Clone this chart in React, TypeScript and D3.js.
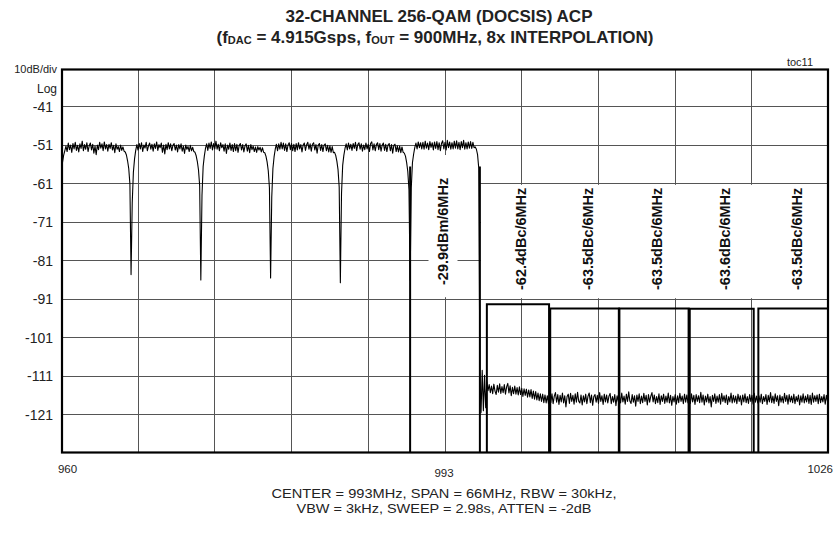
import React from 'react';
import * as d3 from 'd3';

// Sweep settings
const FREQ_START = 960;
const FREQ_STOP = 1026;
const STEP_MHZ = 0.1;
const DB_TOP = -31;
const DB_BOTTOM = -131;

const yTickLabels = [-41, -51, -61, -71, -81, -91, -101, -111, -121];
const xTickLabels = ['960', '993', '1026'];

// Measured spectrum in dBm, 0.1 MHz per sample, 6 MHz per array
const trace960 = [
  -59.0, -55.5, -53.6, -52.4, -51.2, -52.6, -50.4, -52.1, -50.9, -52.8,
  -50.5, -51.9, -50.2, -52.3, -51.0, -52.7, -50.6, -51.8, -49.9, -52.4,
  -50.8, -52.0, -50.3, -52.6, -51.1, -50.4, -52.2, -50.7, -53.0, -51.2,
  -53.4, -50.9, -52.1, -50.2, -51.7, -50.6, -52.4, -50.1, -51.9, -50.8,
  -52.5, -50.7, -51.8, -50.3, -52.2, -51.0, -52.9, -50.6, -52.0, -51.3,
  -52.6, -50.9, -52.3, -51.4, -52.5, -52.7, -53.5, -55.0, -57.0, -61.0,
];
const trace966 = [
  -84.6, -66.0, -58.0, -54.5, -52.3, -50.8, -52.2, -50.5, -51.9, -50.3,
  -52.6, -50.9, -51.7, -50.2, -52.4, -51.1, -50.4, -52.0, -50.7, -52.5,
  -50.6, -51.8, -50.1, -52.3, -50.8, -51.6, -50.4, -52.8, -50.9, -53.2,
  -50.7, -52.1, -50.3, -51.9, -50.6, -52.4, -51.0, -50.5, -52.2, -50.9,
  -52.7, -50.8, -51.9, -50.6, -52.5, -51.2, -53.1, -50.9, -52.0, -51.3,
  -52.6, -51.0, -52.4, -51.5, -52.6, -52.8, -53.7, -55.2, -57.4, -61.5,
];
const trace972 = [
  -86.0, -64.0, -56.5, -53.8, -51.8, -50.6, -52.3, -50.4, -51.8, -50.1,
  -52.2, -50.5, -51.9, -49.9, -52.0, -50.7, -52.4, -50.3, -51.6, -50.8,
  -52.5, -50.6, -53.1, -50.9, -52.0, -50.4, -52.3, -50.8, -52.6, -50.5,
  -52.4, -50.7, -52.8, -51.0, -50.5, -52.2, -50.8, -52.7, -51.1, -50.6,
  -52.5, -51.0, -52.9, -50.8, -52.1, -51.2, -52.6, -51.4, -52.8, -51.3,
  -52.2, -51.5, -52.7, -51.6, -52.8, -52.9, -53.8, -55.3, -57.6, -62.0,
];
const trace978 = [
  -85.5, -64.5, -57.0, -54.0, -52.0, -50.7, -52.4, -50.6, -52.0, -50.2,
  -51.9, -50.4, -52.3, -50.6, -52.6, -50.9, -50.3, -52.1, -50.5, -52.4,
  -50.7, -52.6, -50.5, -52.2, -50.3, -51.9, -50.8, -52.7, -50.9, -50.4,
  -52.3, -50.8, -50.2, -52.0, -50.6, -52.5, -50.7, -50.3, -52.2, -50.8,
  -53.0, -50.9, -50.5, -52.3, -50.8, -52.6, -50.9, -50.6, -52.4, -51.0,
  -52.7, -51.1, -52.8, -51.3, -52.9, -52.8, -53.6, -55.1, -57.3, -61.8,
];
const trace984 = [
  -86.7, -63.5, -56.2, -53.6, -51.8, -50.6, -52.2, -50.4, -51.9, -50.7,
  -52.3, -50.5, -51.8, -50.2, -52.4, -50.8, -50.3, -52.0, -50.6, -52.5,
  -50.9, -52.1, -50.4, -51.9, -50.7, -52.6, -50.5, -50.1, -52.2, -50.6,
  -52.4, -50.8, -50.3, -52.1, -50.5, -52.5, -50.9, -50.4, -52.3, -50.7,
  -52.6, -50.9, -50.5, -52.4, -50.8, -53.0, -51.0, -50.7, -52.6, -51.1,
  -52.7, -51.2, -52.9, -51.4, -52.8, -53.0, -53.8, -55.4, -57.8, -62.5,
];
const trace990 = [
  -86.0, -62.0, -55.5, -53.3, -51.6, -50.4, -51.9, -50.1, -51.6, -50.3,
  -51.9, -50.2, -52.0, -49.9, -51.7, -50.4, -52.1, -50.0, -51.5, -50.3,
  -52.2, -50.1, -51.8, -50.0, -52.1, -50.3, -52.4, -50.5, -49.8, -51.9,
  -50.2, -52.2, -49.7, -51.6, -50.1, -52.0, -50.3, -51.9, -49.9, -51.7,
  -49.8, -51.9, -50.2, -52.1, -50.0, -51.6, -49.7, -52.0, -50.3, -51.9,
  -50.1, -51.7, -50.0, -51.8, -50.2, -51.6, -51.4, -52.0, -53.4, -56.8,
];
const trace996 = [
  -110.5, -120.5, -109.5, -120.0, -110.8, -119.2, -112.5, -114.8, -113.2, -115.3,
  -113.6, -115.6, -113.1, -114.9, -115.8, -113.4, -115.2, -113.0, -115.5, -113.7,
  -115.3, -113.2, -115.7, -113.8, -112.9, -115.4, -113.5, -116.1, -113.9, -115.6,
  -113.6, -115.7, -114.0, -115.9, -113.8, -115.8, -114.2, -116.3, -114.3, -116.0,
  -114.4, -116.5, -114.6, -116.4, -114.5, -116.8, -114.9, -117.0, -115.0, -117.2,
  -115.4, -117.4, -115.6, -117.6, -115.7, -117.9, -115.9, -118.0, -116.1, -118.2,
];
const trace1002 = [
  -115.9, -117.9, -115.6, -118.2, -116.2, -115.3, -117.8, -115.8, -118.4, -116.0,
  -117.7, -115.4, -118.0, -116.1, -119.0, -116.3, -115.7, -118.1, -115.5, -117.6,
  -116.0, -118.3, -115.6, -117.8, -115.2, -117.5, -118.0, -115.9, -118.5, -116.1,
  -117.7, -115.7, -118.2, -116.2, -115.4, -117.9, -115.9, -118.6, -116.3, -115.8,
  -117.8, -116.0, -118.1, -115.3, -117.6, -116.1, -118.4, -115.7, -117.7, -115.9,
  -118.0, -116.2, -115.5, -118.2, -116.3, -117.8, -115.8, -118.7, -116.1, -117.6,
];
const trace1008 = [
  -116.0, -118.0, -115.4, -117.7, -116.2, -118.3, -115.7, -117.6, -115.1, -117.5,
  -118.1, -115.8, -117.8, -116.1, -118.8, -115.9, -117.6, -115.6, -118.2, -116.2,
  -117.9, -115.5, -117.6, -116.0, -118.5, -115.8, -117.8, -116.2, -115.3, -117.7,
  -115.9, -118.2, -116.3, -117.9, -115.6, -118.4, -116.1, -117.6, -115.7, -118.1,
  -116.2, -117.8, -115.4, -118.0, -116.0, -118.6, -116.3, -117.7, -115.8, -118.3,
  -116.1, -117.9, -115.5, -117.6, -116.2, -118.2, -115.7, -117.8, -115.9, -118.0,
];
const trace1014 = [
  -116.3, -118.1, -115.6, -117.7, -116.0, -118.4, -115.8, -117.6, -116.1, -117.9,
  -115.2, -117.8, -115.9, -118.5, -116.2, -117.7, -115.7, -118.0, -116.3, -119.0,
  -116.0, -117.6, -115.6, -118.1, -116.2, -117.8, -115.8, -118.3, -115.5, -117.6,
  -116.1, -117.9, -115.9, -118.4, -116.3, -117.7, -115.4, -118.0, -116.0, -117.8,
  -116.2, -118.2, -115.7, -117.6, -116.1, -118.5, -115.9, -117.7, -115.6, -117.9,
  -116.3, -118.1, -115.8, -117.6, -116.0, -118.3, -115.5, -117.8, -116.2, -118.0,
];
const trace1020 = [
  -116.1, -117.8, -115.7, -118.2, -116.3, -117.6, -115.8, -118.4, -116.0, -117.7,
  -115.3, -117.9, -116.2, -118.1, -115.6, -117.6, -116.1, -118.7, -115.9, -117.8,
  -116.3, -118.0, -115.5, -117.6, -116.0, -118.3, -115.8, -117.7, -116.2, -117.9,
  -115.7, -118.2, -116.3, -117.6, -115.9, -118.5, -116.1, -117.8, -115.6, -118.0,
  -116.2, -117.7, -115.8, -118.1, -116.0, -118.4, -115.4, -117.8, -116.1, -117.6,
  -115.9, -118.2, -115.7, -117.9, -116.3, -117.7, -115.8, -118.3, -116.0, -117.6,
  -116.2,
];

// Channel power measurement
const mainStart = 990;
const mainStop = 996;
const mainPower = -29.9;
const adjStarts = [996.6, 1002.05, 1008.0, 1014.05, 1019.95];
const adjStops = [1001.95, 1007.95, 1013.95, 1019.55, 1026.0];
const adjDbc = [-62.4, -63.5, -63.5, -63.6, -63.5];

const W = 834;
const H = 538;
const FONT = "'Liberation Sans', Arial, Helvetica, sans-serif";

export default function App() {
  const x = d3.scaleLinear().domain([FREQ_START, FREQ_STOP]).range([61.3, 828.7]);
  const y = d3.scaleLinear().domain([DB_BOTTOM, DB_TOP]).range([453, 68.5]);

  const frame = { x0: 62, x1: 828, y0: 69.5, y1: 452.5 };

  const values = [
    ...trace960, ...trace966, ...trace972, ...trace978, ...trace984, ...trace990,
    ...trace996, ...trace1002, ...trace1008, ...trace1014, ...trace1020,
  ];
  const points = values.map((v, i) => ({ f: FREQ_START + i * STEP_MHZ, v }));
  const line = d3
    .line<{ f: number; v: number }>()
    .x((d) => x(d.f))
    .y((d) => y(d.v));

  const vGrid = d3.range(1, 10).map((i) => FREQ_START + (i * (FREQ_STOP - FREQ_START)) / 10);

  const xMainL = x(mainStart);
  const xMainR = x(mainStop);
  const mainLabelCx = (xMainL + xMainR) / 2 - 2;

  const adjBoxes = adjStarts.map((s, i) => ({
    s,
    e: adjStops[i],
    top: mainPower + adjDbc[i],
    label: `${adjDbc[i].toFixed(1)}dBc/6MHz`,
  }));

  const gridColor = '#555';

  return (
    <svg
      width={W}
      height={H}
      viewBox={`0 0 ${W} ${H}`}
      style={{ position: 'absolute', left: 0, top: 0, background: '#fff' }}
      fontFamily={FONT}
    >
      <defs>
        <clipPath id="plotClip">
          <rect x={frame.x0} y={frame.y0} width={frame.x1 - frame.x0} height={frame.y1 - frame.y0} />
        </clipPath>
      </defs>
      <rect x={0} y={0} width={W} height={H} fill="#fff" />

      {/* Title */}
      <text x={439} y={22} textAnchor="middle" fontSize={17} fontWeight="bold" fill="#222">
        32-CHANNEL 256-QAM (DOCSIS) ACP
      </text>
      <text x={435} y={43} textAnchor="middle" fontSize={17} fontWeight="bold" fill="#222">
        (f
        <tspan fontSize={11} dy={1}>DAC</tspan>
        <tspan dy={-1}> = 4.915Gsps, f</tspan>
        <tspan fontSize={11} dy={1}>OUT</tspan>
        <tspan dy={-1}> = 900MHz, 8x INTERPOLATION)</tspan>
      </text>
      <text x={813} y={66} textAnchor="end" fontSize={11} fill="#222">toc11</text>

      {/* Y axis annotations */}
      <text x={57} y={73} textAnchor="end" fontSize={11} fill="#222">10dB/div</text>
      <text x={57} y={93} textAnchor="end" fontSize={12} fill="#222">Log</text>
      {yTickLabels.map((v) => (
        <text key={v} x={53} y={y(v)} dy="0.36em" textAnchor="end" fontSize={14} fill="#222">
          {v}
        </text>
      ))}

      {/* X axis labels */}
      <text x={67.5} y={473} textAnchor="middle" fontSize={11.5} fill="#222">{xTickLabels[0]}</text>
      <text x={444} y={477} textAnchor="middle" fontSize={11.5} fill="#222">{xTickLabels[1]}</text>
      <text x={833} y={473} textAnchor="end" fontSize={11.5} fill="#222">{xTickLabels[2]}</text>

      {/* Grid */}
      <g stroke={gridColor} strokeWidth={1} shapeRendering="crispEdges">
        {yTickLabels.map((v) => (
          <line key={`h${v}`} x1={frame.x0} x2={frame.x1} y1={y(v)} y2={y(v)} />
        ))}
        {vGrid.map((f) => (
          <line key={`v${f}`} x1={x(f)} x2={x(f)} y1={frame.y0} y2={frame.y1} />
        ))}
      </g>

      {/* Blanked areas behind the channel annotations */}
      <rect x={xMainL} y={y(-53.5)} width={xMainR - xMainL} height={y(-76) - y(-53.5)} fill="#fff" />
      <rect x={mainLabelCx - 14.5} y={y(-57)} width={29} height={y(-91) - 2 - y(-57)} fill="#fff" />
      <rect
        x={xMainR + 1}
        y={y(-61) + 1}
        width={frame.x1 - xMainR - 1}
        height={y(-91) - y(-61) - 2}
        fill="#fff"
      />

      {/* Channel power labels */}
      <text
        transform={`translate(${mainLabelCx + 5.2},285) rotate(-90)`}
        fontSize={14.5}
        fontWeight="bold"
        fill="#111"
      >
        {`${mainPower.toFixed(1)}dBm/6MHz`}
      </text>
      {adjBoxes.map((b) => (
        <text
          key={`l${b.s}`}
          transform={`translate(${(x(b.s) + x(b.e)) / 2 + 3 + 5.2},290) rotate(-90)`}
          fontSize={14.5}
          fontWeight="bold"
          fill="#111"
        >
          {b.label}
        </text>
      ))}

      <g clipPath="url(#plotClip)">
        {/* Integration bandwidth markers */}
        <g stroke="#000" strokeWidth={2} fill="none">
          <line x1={xMainL} x2={xMainL} y1={y(-56.5)} y2={y(DB_BOTTOM)} />
          <line x1={xMainR} x2={xMainR} y1={y(-56.5)} y2={y(DB_BOTTOM)} />
          {adjBoxes.map((b) => (
            <path
              key={`b${b.s}`}
              d={`M${x(b.s)},${y(DB_BOTTOM)}V${y(b.top)}H${x(b.e)}V${y(DB_BOTTOM)}`}
            />
          ))}
        </g>

        {/* Spectrum trace */}
        <path d={line(points) || ''} fill="none" stroke="#000" strokeWidth={1.1} strokeLinejoin="round" />
      </g>

      {/* Plot frame */}
      <rect
        x={frame.x0}
        y={frame.y0}
        width={frame.x1 - frame.x0}
        height={frame.y1 - frame.y0}
        fill="none"
        stroke="#000"
        strokeWidth={2.2}
      />

      {/* Sweep settings */}
      <text x={444} y={498} textAnchor="middle" fontSize={13} textLength={345} lengthAdjust="spacingAndGlyphs" fill="#222">
        CENTER = 993MHz, SPAN = 66MHz, RBW = 30kHz,
      </text>
      <text x={444} y={512.5} textAnchor="middle" fontSize={13} textLength={295} lengthAdjust="spacingAndGlyphs" fill="#222">
        VBW = 3kHz, SWEEP = 2.98s, ATTEN = -2dB
      </text>
    </svg>
  );
}
